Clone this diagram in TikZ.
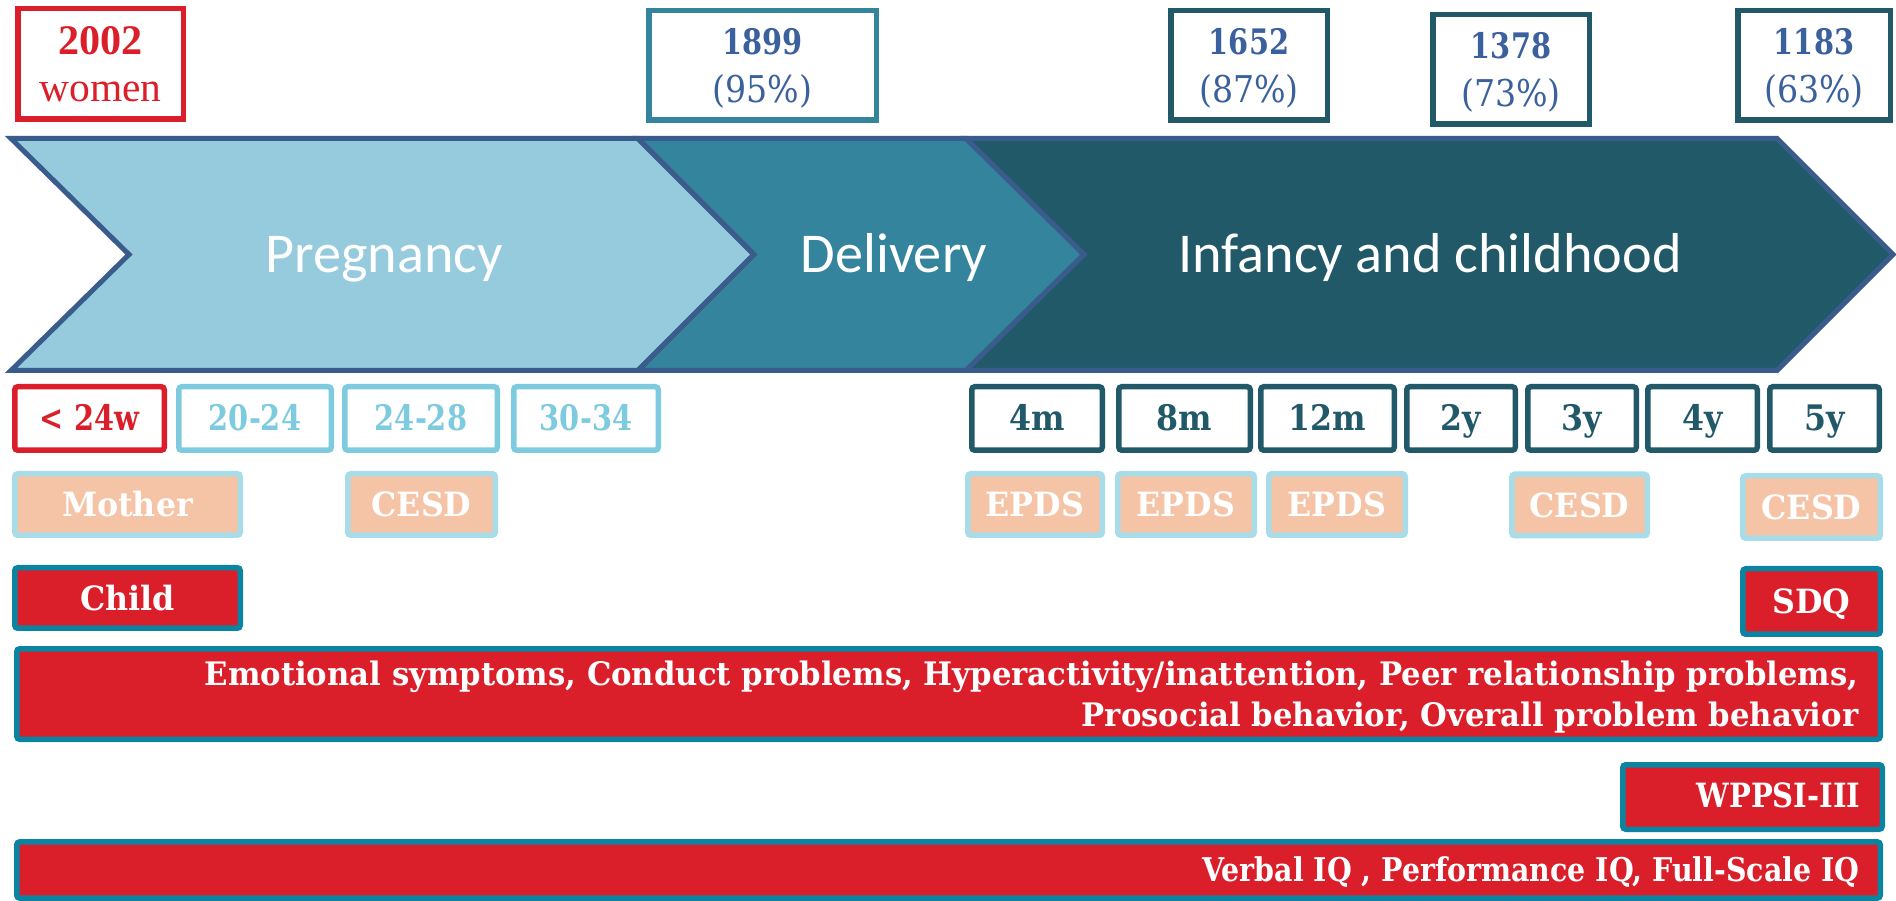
\documentclass[tikz,border=0pt]{standalone}
\usepackage{fontspec}
% slab serif faces at a few widths
\newfontfamily\slab[FakeStretch=0.82]{DejaVu Serif}
\newfontfamily\slabn[FakeStretch=0.87]{DejaVu Serif}
\newfontfamily\slabm[FakeStretch=0.90]{DejaVu Serif}
\newfontfamily\slabw[FakeStretch=0.95]{DejaVu Serif}
\newfontfamily\timesf{Liberation Serif}
\newfontfamily\calib{Carlito}
\definecolor{cred}{RGB}{218,31,42}
\definecolor{paleblue}{RGB}{149,203,220}
\definecolor{midteal}{RGB}{51,132,156}
\definecolor{darkteal}{RGB}{34,89,104}
\definecolor{outline}{RGB}{58,92,140}
\definecolor{countblue}{RGB}{59,96,158}
\definecolor{lightfr}{RGB}{126,203,224}
\definecolor{peach}{RGB}{245,196,166}
\definecolor{peachline}{RGB}{168,220,233}
\definecolor{tealline}{RGB}{11,132,162}
\begin{document}
\begin{tikzpicture}[x=0.1mm,y=-0.1mm,
  phase/.style={draw=outline,line width=0.5mm,line join=miter},
  phasetext/.style={text=white,font=\calib\fontsize{16}{19}\selectfont,anchor=base,inner sep=0pt},
  countbox/.style={draw,fill=white,line width=0.55mm,inner sep=0pt,align=center,text=countblue,
    text depth=0pt,font=\slabm\fontsize{10.5}{13.4}\selectfont},
  timebox/.style={draw,fill=white,line width=0.55mm,rounded corners=0.3mm,inner sep=0pt,
    minimum height=6.35mm,text height=7.1pt,text depth=0pt,font=\slab\bfseries\fontsize{10}{12}\selectfont},
  redtime/.style={timebox,draw=cred,text=cred},
  pregtime/.style={timebox,draw=lightfr,text=lightfr},
  kidtime/.style={timebox,draw=darkteal,text=darkteal,font=\slabm\bfseries\fontsize{10}{12}\selectfont},
  scale box/.style={draw=peachline,fill=peach,text=white,line width=0.55mm,rounded corners=0.3mm,
    inner sep=0pt,minimum height=6.15mm,text height=6.9pt,text depth=0pt,
    font=\slabw\bfseries\fontsize{9.5}{11}\selectfont},
  outcome/.style={draw=tealline,fill=cred,text=white,line width=0.55mm,rounded corners=0.3mm,
    inner sep=0pt,text height=6.9pt,text depth=0pt,font=\slabw\bfseries\fontsize{9.5}{11}\selectfont},
  bartext/.style={text=white,inner sep=0pt,align=right,font=\slabw\bfseries\fontsize{9.2}{11.6}\selectfont}]
\useasboundingbox (0,0) rectangle (1896,901);

% study phases as chevrons
\draw[phase,fill=paleblue] (11,138.5) -- (638,138.5) -- (754,254.5) -- (638,370.5) -- (11,370.5) -- (129,254.5) -- cycle;
\draw[phase,fill=midteal] (638,138.5) -- (966,138.5) -- (1084,254.5) -- (966,370.5) -- (638,370.5) -- (754,254.5) -- cycle;
\draw[phase,fill=darkteal] (966,138.5) -- (1777,138.5) -- (1893,254.5) -- (1777,370.5) -- (966,370.5) -- (1084,254.5) -- cycle;
\node[phasetext] (preg) at (384,273) {Pregnancy};
\node[phasetext] (deliv) at (894,273) {Delivery};
\node[phasetext] (infancy) at (1430,273) {Infancy and childhood};

% sample sizes
\node[countbox,draw=cred,text=cred,minimum width=16.55mm,minimum height=11.05mm,
  font=\timesf\fontsize{11.8}{13.6}\selectfont] (n2002) at (100.5,64)
  {{\bfseries\fontsize{12}{13.6}\selectfont 2002}\\women};
\node[countbox,draw=midteal,minimum width=22.75mm,minimum height=10.95mm] (n1899) at (762.5,65.5)
  {{\slab\bfseries\fontsize{10}{13.4}\selectfont 1899}\\(95\%)};
\node[countbox,draw=darkteal,minimum width=15.65mm,minimum height=10.95mm] (n1652) at (1249,65.5)
  {{\slab\bfseries\fontsize{10}{13.4}\selectfont 1652}\\(87\%)};
\node[countbox,draw=darkteal,minimum width=15.65mm,minimum height=10.95mm] (n1378) at (1511,69.5)
  {{\slab\bfseries\fontsize{10}{13.4}\selectfont 1378}\\(73\%)};
\node[countbox,draw=darkteal,minimum width=15.25mm,minimum height=10.95mm] (n1183) at (1814,65.5)
  {{\slab\bfseries\fontsize{10}{13.4}\selectfont 1183}\\(63\%)};

% assessment time points
\node[redtime,minimum width=14.95mm] (t24w) at (89.5,418.5) {< 24w};
\node[pregtime,minimum width=15.25mm] (t2024) at (255,418.5) {20-24};
\node[pregtime,minimum width=15.25mm] (t2428) at (421,418.5) {24-28};
\node[pregtime,minimum width=14.45mm] (t3034) at (586,418.5) {30-34};
\node[kidtime,minimum width=13.05mm] (t4m) at (1037,418.5) {4m};
\node[kidtime,minimum width=13.15mm] (t8m) at (1184.5,418.5) {8m};
\node[kidtime,minimum width=13.35mm] (t12m) at (1327.5,418.5) {12m};
\node[kidtime,minimum width=10.85mm] (t2y) at (1461,418.5) {2y};
\node[kidtime,minimum width=10.85mm] (t3y) at (1582,418.5) {3y};
\node[kidtime,minimum width=10.95mm] (t4y) at (1702.5,418.5) {4y};
\node[kidtime,minimum width=10.95mm] (t5y) at (1824.5,418.5) {5y};

% maternal measures
\node[scale box,minimum width=22.55mm] (mother) at (127.5,504.5) {Mother};
\node[scale box,minimum width=14.75mm] (cesd1) at (421.5,504.5) {CESD};
\node[scale box,minimum width=13.45mm] (epds1) at (1035,504.5) {EPDS};
\node[scale box,minimum width=13.65mm] (epds2) at (1186,504.5) {EPDS};
\node[scale box,minimum width=13.65mm] (epds3) at (1337,504.5) {EPDS};
\node[scale box,minimum width=13.55mm] (cesd2) at (1579.5,505) {CESD};
\node[scale box,minimum width=13.75mm,minimum height=6.25mm] (cesd3) at (1811.5,507) {CESD};

% child outcomes
\node[outcome,minimum width=22.55mm,minimum height=6.05mm] (child) at (127.5,598) {Child};
\node[outcome,minimum width=13.75mm,minimum height=6.55mm] (sdq) at (1811.5,601.5) {SDQ};
\node[outcome,minimum width=186.35mm,minimum height=9.05mm] (sdqbar) at (948.5,694) {};
\node[bartext,anchor=base east] (sdqitems) at (1859,726)
  {Emotional symptoms, Conduct problems, Hyperactivity/inattention, Peer relationship problems,\\
   Prosocial behavior, Overall problem behavior};
\node[outcome,minimum width=25.95mm,minimum height=6.45mm] (wppsi) at (1752.5,797) {};
\node[bartext,anchor=base east,font=\slabn\bfseries\fontsize{9.5}{11}\selectfont] (wppsitext) at (1861,807) {WPPSI-III};
\node[outcome,minimum width=186.35mm,minimum height=5.63mm] (iqbar) at (948.5,870) {};
\node[bartext,anchor=base east,font=\slabn\bfseries\fontsize{9.3}{11}\selectfont] (iqitems) at (1860,881) {Verbal IQ , Performance IQ, Full-Scale IQ};
\end{tikzpicture}
\end{document}
